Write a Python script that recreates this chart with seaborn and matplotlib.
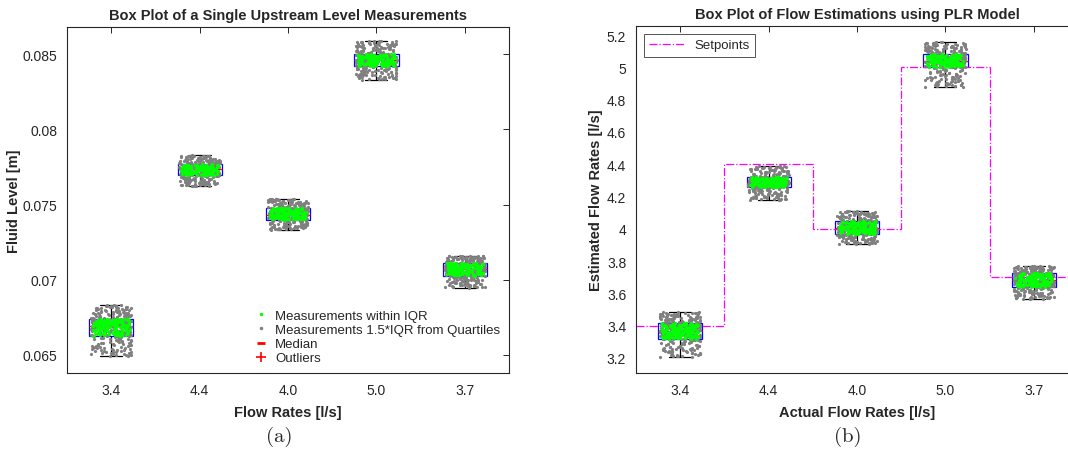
import numpy as np
import pandas as pd
import matplotlib
matplotlib.use("Agg")
import matplotlib.pyplot as plt
import seaborn as sns
from matplotlib.lines import Line2D

# ---------------- data ----------------
flow_labels = ["3.4", "4.4", "4.0", "5.0", "3.7"]

# (a) fluid level measurements: whisker low, Q1, median, Q3, whisker high
lvl_lo  = [0.06493, 0.07620, 0.07333, 0.08330, 0.06947]
lvl_q1  = [0.06627, 0.07693, 0.07400, 0.08420, 0.07027]
lvl_med = [0.06693, 0.07733, 0.07433, 0.08460, 0.07070]
lvl_q3  = [0.06740, 0.07767, 0.07480, 0.08500, 0.07113]
lvl_hi  = [0.06833, 0.07827, 0.07540, 0.08590, 0.07160]

# (b) PLR flow estimations
est_lo  = [3.206, 4.178, 3.906, 4.878, 3.565]
est_q1  = [3.318, 4.259, 3.968, 5.002, 3.640]
est_med = [3.367, 4.290, 4.005, 5.040, 3.683]
est_q3  = [3.417, 4.320, 4.048, 5.082, 3.726]
est_hi  = [3.485, 4.389, 4.110, 5.157, 3.770]

setpoints = [3.4, 4.4, 4.0, 5.0, 3.7]

lvl_yticks = [0.065, 0.07, 0.075, 0.08, 0.085]
lvl_yticklabels = ["0.065", "0.07", "0.075", "0.08", "0.085"]
est_yticks = [3.2, 3.4, 3.6, 3.8, 4.0, 4.2, 4.4, 4.6, 4.8, 5.0, 5.2]
est_yticklabels = ["3.2", "3.4", "3.6", "3.8", "4", "4.2", "4.4", "4.6", "4.8", "5", "5.2"]

N_PTS = 280


def build_frame(lo, q1, med, q3, hi):
    rows = []
    p = (np.arange(N_PTS) + 0.5) / N_PTS
    for lab, a, b, c, d, e in zip(flow_labels, lo, q1, med, q3, hi):
        vals = np.interp(p, [0, 0.25, 0.5, 0.75, 1.0], [a, b, c, d, e])
        for v in vals:
            rows.append((lab, v, b <= v <= d))
    return pd.DataFrame(rows, columns=["flow", "value", "in_iqr"])


df_lvl = build_frame(lvl_lo, lvl_q1, lvl_med, lvl_q3, lvl_hi)
df_est = build_frame(est_lo, est_q1, est_med, est_q3, est_hi)

# ---------------- style ----------------
sns.set_theme(style="white")
plt.rcParams["font.family"] = ["Liberation Sans", "DejaVu Sans"]
plt.rcParams["axes.edgecolor"] = "#262626"
plt.rcParams["axes.linewidth"] = 0.8
plt.rcParams["xtick.color"] = "#262626"
plt.rcParams["ytick.color"] = "#262626"

fig = plt.figure(figsize=(10.68, 4.56), dpi=100)
W, H = 1068.0, 456.0
axL = fig.add_axes([67 / W, (H - 374) / H, 442 / W, 346 / H])
axR = fig.add_axes([636 / W, (H - 374) / H, 442 / W, 347 / H])

GRAY = (0.5, 0.5, 0.5)
GREEN = (0.0, 1.0, 0.0)
FS_TICK = 10
FS_LAB = 10.5


def draw(ax, df):
    sns.boxplot(data=df, x="flow", y="value", order=flow_labels, ax=ax,
                width=0.5, whis=(0, 100), showfliers=False, linewidth=0.9,
                boxprops=dict(facecolor="none", edgecolor="blue"),
                whiskerprops=dict(color="black"),
                capprops=dict(color="black"),
                medianprops=dict(color="red"))
    sns.stripplot(data=df, x="flow", y="value", order=flow_labels, ax=ax,
                  color=GRAY, size=2.3, jitter=0.23, linewidth=0, zorder=3)
    sns.stripplot(data=df[df["in_iqr"]], x="flow", y="value", order=flow_labels,
                  ax=ax, color=GREEN, size=2.3, jitter=0.21, linewidth=0, zorder=4)
    ax.set_xlim(-0.5, 4.5)
    ax.tick_params(direction="in", length=4, width=0.7, top=True, right=True,
                   labelsize=FS_TICK, pad=7)
    for s in ax.spines.values():
        s.set_visible(True)


draw(axL, df_lvl)
axL.set_ylim(0.0638, 0.0868)
axL.set_yticks(lvl_yticks)
axL.set_yticklabels(lvl_yticklabels)
axL.set_xticks(range(len(flow_labels)))
axL.set_xticklabels(flow_labels)
axL.set_xlabel("Flow Rates [l/s]", fontsize=FS_LAB, fontweight="bold", labelpad=6)
axL.set_ylabel("Fluid Level [m]", fontsize=FS_LAB, fontweight="bold", labelpad=1)
axL.set_title("Box Plot of a Single Upstream Level Measurements",
              fontsize=FS_LAB, fontweight="bold", pad=6)

handles = [
    Line2D([], [], ls="none", marker=".", color=GREEN, markersize=3),
    Line2D([], [], ls="none", marker=".", color=GRAY, markersize=3),
    Line2D([], [], ls="none", marker="_", color="red", markersize=6, mew=2),
    Line2D([], [], ls="none", marker="+", color="red", markersize=7, mew=1.2),
]
axL.legend(handles, ["Measurements within IQR",
                     "Measurements 1.5*IQR from Quartiles",
                     "Median", "Outliers"],
           loc="lower right", bbox_to_anchor=(1.0, 0.0), frameon=False,
           fontsize=9.5, handlelength=1.0, handletextpad=0.6,
           labelspacing=0.15, borderaxespad=0.25)

draw(axR, df_est)
axR.stairs(setpoints, np.arange(len(setpoints) + 1) - 0.5, color=(1, 0, 1),
           linestyle="-.", linewidth=0.9, zorder=2, baseline=None,
           label="Setpoints")
axR.set_ylim(3.107, 5.256)
axR.set_yticks(est_yticks)
axR.set_yticklabels(est_yticklabels)
axR.set_xticks(range(len(flow_labels)))
axR.set_xticklabels(flow_labels)
axR.set_xlabel("Actual Flow Rates [l/s]", fontsize=FS_LAB, fontweight="bold", labelpad=6)
axR.set_ylabel("Estimated Flow Rates [l/s]", fontsize=FS_LAB, fontweight="bold", labelpad=3)
axR.set_title("Box Plot of Flow Estimations using PLR Model",
              fontsize=FS_LAB, fontweight="bold", pad=6)
legR = axR.legend(handles=[Line2D([], [], color=(1, 0, 1), ls="-.", lw=0.9)],
                  labels=["Setpoints"], loc="upper left", fontsize=9.5,
                  frameon=True, fancybox=False, edgecolor="#262626",
                  handlelength=2.6, borderaxespad=0.6, borderpad=0.4)
legR.get_frame().set_linewidth(0.7)

cap_font = dict(family=["cmr10", "DejaVu Serif"], fontsize=15)
fig.text(279 / W, 1 - 437 / H, "(a)", ha="center", va="center", **cap_font)
fig.text(848 / W, 1 - 437 / H, "(b)", ha="center", va="center", **cap_font)

fig.savefig("out.png", dpi=100)
